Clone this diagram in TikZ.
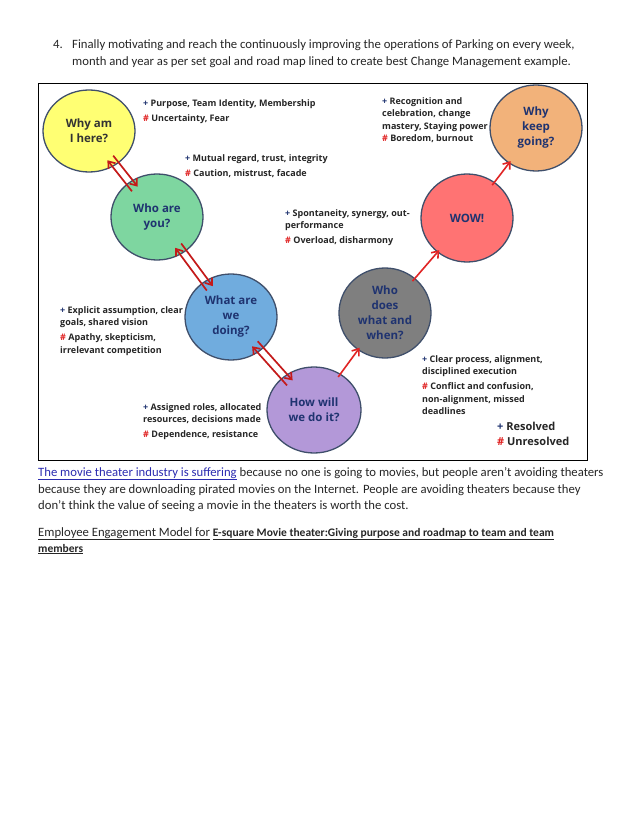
\documentclass[tikz,border=0pt]{standalone}
\usepackage{fontspec}
\setmainfont{Carlito}
\newfontfamily\diagfont{Open Sans}
\usetikzlibrary{shapes.geometric,arrows.meta}

\definecolor{ringline}{HTML}{3F4F6B}
\definecolor{stageyellow}{HTML}{FFFF73}
\definecolor{stagegreen}{HTML}{7ED6A0}
\definecolor{stageblue}{HTML}{70ACDE}
\definecolor{stagepurple}{HTML}{B398D8}
\definecolor{stagegray}{HTML}{7F7F7F}
\definecolor{stagered}{HTML}{FF7373}
\definecolor{stageorange}{HTML}{F2B27A}
\definecolor{stagetext}{HTML}{1F3370}
\definecolor{darktext}{HTML}{333333}
\definecolor{notetext}{HTML}{262626}
\definecolor{plusblue}{HTML}{1F3370}
\definecolor{hashred}{HTML}{E02020}
\definecolor{arrowdark}{HTML}{C41A1A}
\definecolor{arrowred}{HTML}{E02424}
\definecolor{bodygray}{HTML}{262626}
\definecolor{linkblue}{HTML}{2B2BB0}

\newcommand{\plusmark}{{\color{plusblue}+}}
\newcommand{\hashmark}{{\color{hashred}\#}}

\begin{document}
\begin{tikzpicture}[x=1pt,y=-1pt,
    stage/.style={ellipse, draw=ringline, line width=1.3pt, minimum width=92pt,
        minimum height=86pt, inner sep=0pt, align=center, text=stagetext,
        font=\diagfont\bfseries\fontsize{11.5}{15}\selectfont},
    note/.style={anchor=north west, inner sep=0pt, align=left, text=notetext,
        font=\diagfont\bfseries\fontsize{9}{12.5}\selectfont},
    twoway/.style={draw=arrowdark, line width=1.7pt,
        -{Straight Barb[length=6pt,width=9pt]}, shorten >=-9pt, shorten <=-9pt},
    oneway/.style={draw=arrowred, line width=1.6pt,
        -{Straight Barb[length=6pt,width=9pt]}, shorten >=-3pt, shorten <=-4pt},
    bodytext/.style={anchor=base west, inner sep=0pt, text=bodygray,
        font=\fontsize{12.7}{15}\selectfont}
]
    % Page
    \useasboundingbox[fill=white] (0,0) rectangle (638,826);

    % Text above the figure
    \node[bodytext] (item) at (53,49) {4.};
    \node[bodytext] (itemA) at (72,49) {Finally motivating and reach the continuously improving the operations of Parking on every week,};
    \node[bodytext] (itemB) at (72,66) {month and year as per set goal and road map lined to create best Change Management example.};

    % Figure frame
    \draw[line width=0.9pt] (38,83) rectangle (587,460);

    % Stages
    \node[stage, fill=stageyellow, text=darktext, minimum height=82pt] (why) at (89,131) {Why am\\I here?};
    \node[stage, fill=stagegreen] (who) at (157,217) {Who are\\you?};
    \node[stage, fill=stageblue] (what) at (231,317) {What are\\we\\doing?};
    \node[stage, fill=stagepurple, minimum width=94pt] (how) at (314,410) {How will\\we do it?};
    \node[stage, fill=stagegray, minimum height=90pt] (when) at (385,313) {Who\\does\\what and\\when?};
    \node[stage, fill=stagered, minimum height=88pt] (wow) at (467,218) {WOW!};
    \node[stage, fill=stageorange] (keep) at (536,128) {Why\\keep\\going?};

    % Two-way steps
    \draw[twoway, transform canvas={shift={(-2.9,2.3)}}] (who) -- (why);
    \draw[twoway, transform canvas={shift={(2.9,-2.3)}}] (why) -- (who);
    \draw[twoway, transform canvas={shift={(-3.0,2.2)}}] (what) -- (who);
    \draw[twoway, transform canvas={shift={(3.0,-2.2)}}] (who) -- (what);
    \draw[twoway, transform canvas={shift={(-2.8,2.5)}}] (how) -- (what);
    \draw[twoway, transform canvas={shift={(2.8,-2.5)}}] (what) -- (how);

    % One-way steps
    \draw[oneway] (how) -- (when);
    \draw[oneway] (when) -- (wow);
    \draw[oneway] (wow) -- (keep);

    % Notes
    \node[note] (whyNote) at (143,99) {\plusmark\ Purpose, Team Identity, Membership\\[2.5pt]\hashmark\ Uncertainty, Fear};
    \node[note] (whoNote) at (185,154) {\plusmark\ Mutual regard, trust, integrity\\[2.5pt]\hashmark\ Caution, mistrust, facade};
    \node[note] (wowNote) at (285,209) {\plusmark\ Spontaneity, synergy, out-\\performance\\[2.5pt]\hashmark\ Overload, disharmony};
    \node[note] (keepNote) at (382,97) {\plusmark\ Recognition and\\celebration, change\\mastery, Staying power\\\hashmark\ Boredom, burnout};
    \node[note] (whatNote) at (60,306) {\plusmark\ Explicit assumption, clear\\goals, shared vision\\[2.5pt]\hashmark\ Apathy, skepticism,\\irrelevant competition};
    \node[note] (howNote) at (143,403) {\plusmark\ Assigned roles, allocated\\resources, decisions made\\[2.5pt]\hashmark\ Dependence, resistance};
    \node[note] (whenNote) at (422,355) {\plusmark\ Clear process, alignment,\\disciplined execution\\[2.5pt]\hashmark\ Conflict and confusion,\\non-alignment, missed\\deadlines};

    % Legend
    \node[note, font=\diagfont\bfseries\fontsize{11}{15}\selectfont] (legend) at (497,422) {\plusmark\ Resolved\\\hashmark\ Unresolved};

    % Text below the figure
    \node[bodytext] (paraA) at (38,476) {{\color{linkblue}\underline{The movie theater industry is suffering}} because no one is going to movies, but people aren't avoiding theaters};
    \node[bodytext] (paraB) at (38,493) {because they are downloading pirated movies on the Internet. People are avoiding theaters because they};
    \node[bodytext] (paraC) at (38,509) {don't think the value of seeing a movie in the theaters is worth the cost.};
    \node[bodytext] (headA) at (38,536) {\underline{Employee Engagement Model for} \underline{\bfseries\fontsize{11.5}{13}\selectfont E-square Movie theater:Giving purpose and roadmap to team and team}};
    \node[bodytext] (headB) at (38,552) {\underline{\bfseries\fontsize{11.5}{13}\selectfont members}};
\end{tikzpicture}
\end{document}
